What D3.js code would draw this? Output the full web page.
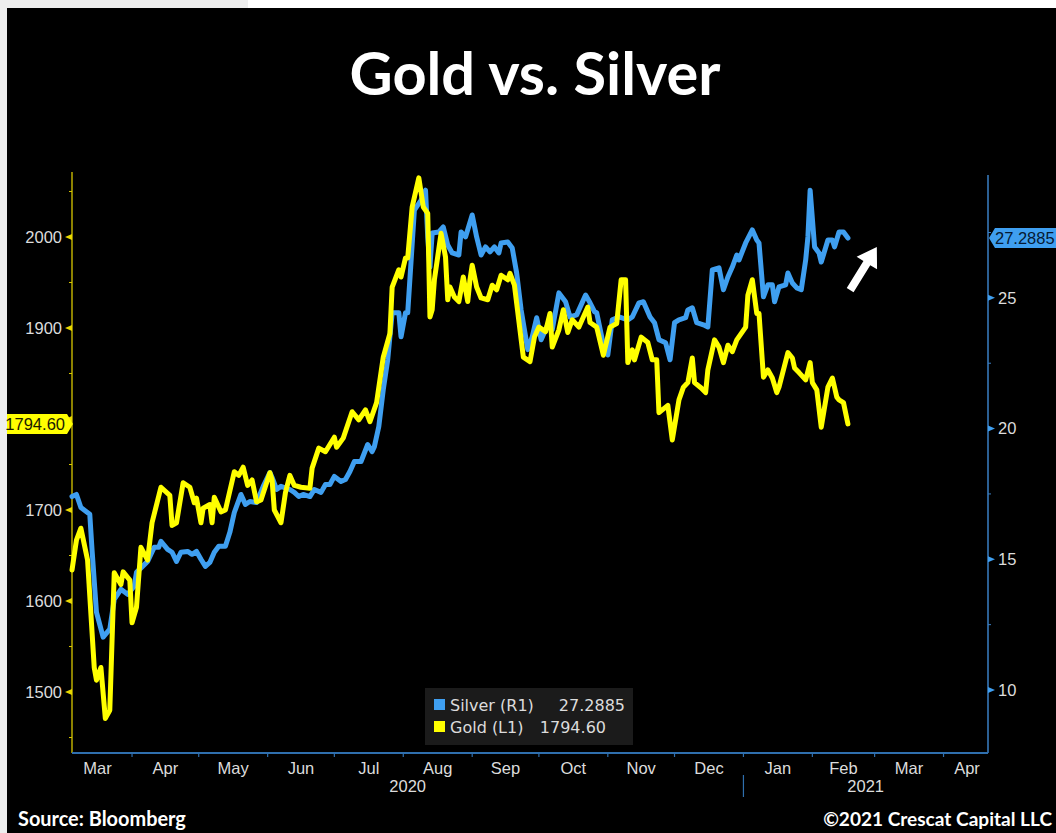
<!DOCTYPE html>
<html>
<head>
<meta charset="utf-8">
<script src="https://cdn.jsdelivr.net/npm/d3@7"></script>
<style>
  html, body { margin: 0; padding: 0; background: #fff; }
  svg { display: block; }
</style>
</head>
<body>
<svg id="chart" width="1056" height="833"></svg>
<script>
// ---- Data: daily closes, sampled; days counted from START ----
const START = new Date(2020, 2, 5);
const END = new Date(2021, 3, 21);

const goldDay = [0,2,4,7,10,11,13,15,17,19,22,23,26,27,29,31,34,36,40,44,45,47,50,53,55,56,58,59,62,63,64,67,69,73,75,77,79,81,83,85,89,90,91,94,96,98,100,103,107,108,111,114,118,119,122,126,129,132,134,137,140,143,144,147,148,150,151,153,156,158,160,161,162,163,166,168,169,170,172,174,176,178,179,180,182,184,187,189,191,193,196,197,199,203,206,208,210,213,215,216,219,221,223,225,228,232,233,236,239,242,245,247,249,250,252,253,256,259,261,263,264,268,270,273,275,277,279,280,283,285,286,289,291,293,295,297,299,303,304,306,308,309,311,313,315,317,318,322,324,325,327,330,332,333,335,337,340,342,344,345,347,349];
const goldVal = [1634,1667,1680,1645,1527,1513,1527,1471,1480,1631,1618,1632,1623,1576,1593,1659,1645,1686,1725,1716,1683,1686,1730,1725,1708,1713,1686,1702,1706,1686,1714,1698,1700,1742,1738,1747,1727,1733,1709,1711,1741,1733,1700,1686,1719,1738,1727,1725,1724,1746,1768,1764,1780,1769,1779,1808,1799,1810,1797,1818,1868,1894,1945,1964,1956,1977,1977,2033,2065,2033,2026,1912,1920,1953,2004,1978,1931,1945,1934,1929,1956,1929,1953,1969,1945,1933,1931,1947,1942,1958,1953,1960,1947,1868,1863,1890,1901,1896,1916,1879,1898,1920,1895,1909,1901,1923,1906,1901,1870,1901,1905,1953,1953,1862,1876,1865,1890,1884,1865,1865,1807,1815,1777,1821,1835,1840,1867,1840,1834,1829,1854,1887,1879,1862,1881,1874,1887,1901,1936,1953,1916,1916,1846,1854,1845,1829,1835,1873,1867,1856,1851,1843,1862,1840,1832,1791,1835,1845,1824,1821,1818,1794.6];

const silverDay = [0,2,4,8,9,11,14,17,19,22,25,28,29,34,37,39,40,43,45,47,49,52,54,56,58,60,62,64,66,69,71,73,76,78,80,83,86,89,90,92,94,98,100,102,104,107,109,112,114,116,118,121,123,125,127,130,133,135,136,138,140,142,144,147,148,150,151,154,157,159,160,161,162,165,167,169,171,174,175,177,180,182,184,186,188,190,192,193,196,198,200,202,205,207,209,211,214,216,219,222,224,227,231,233,235,236,239,241,243,246,250,252,255,257,260,262,264,267,269,271,273,276,277,279,281,284,286,288,291,293,295,297,299,300,303,306,308,309,311,313,315,316,318,321,322,324,326,328,330,331,332,334,336,337,340,342,343,345,347,349];
const silverVal = [17.40,17.48,16.98,16.72,15.38,12.98,12.02,12.33,13.47,13.85,13.66,13.97,14.50,14.92,15.46,15.46,15.69,15.38,15.27,14.92,15.27,15.30,15.19,15.30,15.00,14.73,14.88,15.27,15.50,15.50,16.03,16.79,17.48,17.10,17.21,17.17,17.79,18.32,18.13,17.67,17.79,17.67,17.56,17.40,17.48,17.40,17.67,17.56,17.86,17.86,18.17,17.98,18.05,18.36,18.74,18.74,19.39,19.12,19.31,20.08,21.49,22.63,24.43,24.43,23.51,24.43,24.43,28.36,28.74,29.12,27.33,26.18,27.48,27.52,27.71,27.02,26.72,26.64,27.52,27.33,28.17,27.33,26.64,26.95,26.76,26.95,26.72,27.10,27.14,26.91,25.95,24.54,23.02,23.51,24.24,23.40,23.97,23.78,25.19,24.85,24.27,24.35,25.11,24.81,24.47,24.43,23.21,22.82,24.16,24.27,24.16,24.27,24.81,24.85,24.27,24.05,23.40,23.28,22.63,24.05,24.16,24.24,24.54,24.62,24.05,23.97,23.89,26.07,26.15,25.31,25.80,26.18,26.64,26.45,27.10,27.60,27.21,27.10,25.04,25.50,25.50,24.85,25.42,25.50,25.95,25.57,25.38,25.31,26.45,27.33,29.12,26.95,26.72,26.37,27.21,27.21,26.95,27.52,27.52,27.2885];

const goldTicks = [1500, 1600, 1700, 1800, 1900, 2000];
const goldMinor = [1450, 1550, 1650, 1750, 1850, 1950, 2050];
const silverTicks = [10, 15, 20, 25];
const silverMinor = [12.5, 17.5, 22.5, 27.5];

const legendItems = [
  { name: "Silver (R1)", value: "27.2885", color: "#3f9ff0" },
  { name: "Gold (L1)", value: "1794.60", color: "#ffff00" }
];
const goldLast = 1794.60;
const silverLast = 27.2885;
// trend arrow (day, silver value) tail -> head
const arrowFrom = [350, 25.3];
const arrowTo = [362, 26.95];

// ---- Layout ----
const W = 1056, H = 833;
const plot = { left: 72, right: 988, top: 172, bottom: 753 };
const GOLD = "#ffff00", SILVER = "#3f9ff0";
const TXT = "#dcdcdc";
const FONT = "'Liberation Sans', Arial, sans-serif";
const FS = 16.5;
const LFONT = "'DejaVu Sans', Verdana, sans-serif";

const svg = d3.select("#chart");

// page frame
svg.append("rect").attr("width", W).attr("height", H).attr("fill", "#ffffff");
svg.append("rect").attr("x", 0).attr("y", 0).attr("width", 248).attr("height", 8).attr("fill", "#eeeeee");
svg.append("rect").attr("x", 0).attr("y", 0).attr("width", 7).attr("height", H).attr("fill", "#eeeeee");
svg.append("rect").attr("x", 7).attr("y", 8).attr("width", W - 7).attr("height", H - 8).attr("fill", "#000");

const dayDate = n => d3.timeDay.offset(START, n);

const x = d3.scaleTime().domain([START, END]).range([plot.left, plot.right]);
const yG = d3.scaleLinear().domain([1433, 2071.4]).range([plot.bottom, plot.top]);
const yS = d3.scaleLinear().domain([7.59, 29.70]).range([plot.bottom, 175]);

function fitText(sel, width) {
  const fs = parseFloat(sel.attr("font-size"));
  const w = sel.node().getComputedTextLength();
  sel.attr("font-size", fs * width / w);
}

// title
const title = svg.append("text")
  .attr("x", 535).attr("y", 95).attr("text-anchor", "middle")
  .attr("font-family", "Lato, 'Open Sans', sans-serif").attr("font-weight", 700)
  .attr("font-size", 54).attr("fill", "#fff").text("Gold vs. Silver");
fitText(title, 371);

// ---- Left axis (gold) ----
const gL = svg.append("g");
gL.append("line").attr("x1", plot.left).attr("x2", plot.left)
  .attr("y1", plot.top).attr("y2", plot.bottom)
  .attr("stroke", "#d8c800").attr("stroke-width", 1.3);
goldMinor.forEach(v => {
  gL.append("line").attr("x1", plot.left - 3).attr("x2", plot.left)
    .attr("y1", yG(v)).attr("y2", yG(v)).attr("stroke", "#d8c800").attr("stroke-width", 1);
});
goldTicks.forEach(v => {
  const yy = yG(v);
  gL.append("path").attr("d", `M${plot.left},${yy - 3}L${plot.left - 7},${yy}L${plot.left},${yy + 3}Z`)
    .attr("fill", "#e8d800");
  if (v !== 1800) {
    gL.append("text").attr("x", plot.left - 10).attr("y", yy).attr("dy", "0.35em")
      .attr("text-anchor", "end").attr("font-family", FONT).attr("font-size", FS)
      .attr("fill", TXT).text(v);
  }
});

// ---- Right axis (silver) ----
const gR = svg.append("g");
gR.append("line").attr("x1", plot.right).attr("x2", plot.right)
  .attr("y1", 175).attr("y2", plot.bottom)
  .attr("stroke", "#3a7fc4").attr("stroke-width", 1.5);
silverMinor.forEach(v => {
  gR.append("line").attr("x1", plot.right).attr("x2", plot.right + 3)
    .attr("y1", yS(v)).attr("y2", yS(v)).attr("stroke", "#3a7fc4").attr("stroke-width", 1);
});
silverTicks.forEach(v => {
  const yy = yS(v);
  gR.append("path").attr("d", `M${plot.right},${yy - 3}L${plot.right + 7},${yy}L${plot.right},${yy + 3}Z`)
    .attr("fill", "#3f9ff0");
  gR.append("text").attr("x", plot.right + 10).attr("y", yy).attr("dy", "0.35em")
    .attr("font-family", FONT).attr("font-size", FS).attr("fill", TXT).text(v);
});

// ---- Bottom axis (time) ----
const gB = svg.append("g");
gB.append("line").attr("x1", plot.left).attr("x2", plot.right)
  .attr("y1", plot.bottom).attr("y2", plot.bottom)
  .attr("stroke", "#2f6fae").attr("stroke-width", 2);
const monthStarts = d3.timeMonth.range(new Date(2020, 2, 1), new Date(2021, 4, 1));
monthStarts.forEach(m => {
  if (m > START && m < END) {
    gB.append("line").attr("x1", x(m)).attr("x2", x(m))
      .attr("y1", plot.bottom).attr("y2", plot.bottom + 4)
      .attr("stroke", "#2f6fae").attr("stroke-width", 1.2);
  }
  const mid = new Date((+m + +d3.timeMonth.offset(m, 1)) / 2);
  const cx = Math.max(plot.left + 24, Math.min(plot.right - 21, x(mid)));
  gB.append("text").attr("x", cx).attr("y", plot.bottom + 21).attr("text-anchor", "middle")
    .attr("font-family", FONT).attr("font-size", FS).attr("fill", TXT)
    .text(d3.timeFormat("%b")(m));
});
const yearSplit = new Date(2021, 0, 1);
gB.append("line").attr("x1", x(yearSplit)).attr("x2", x(yearSplit))
  .attr("y1", plot.bottom + 22).attr("y2", plot.bottom + 44)
  .attr("stroke", "#2f6fae").attr("stroke-width", 1.2);
[[START, yearSplit, "2020"], [yearSplit, END, "2021"]].forEach(([a, b, t]) => {
  gB.append("text").attr("x", (x(a) + x(b)) / 2).attr("y", plot.bottom + 39)
    .attr("text-anchor", "middle").attr("font-family", FONT).attr("font-size", FS)
    .attr("fill", TXT).text(t);
});

// ---- Series ----
const silverData = silverDay.map((d, i) => ({ date: dayDate(d), v: silverVal[i] }));
const goldData = goldDay.map((d, i) => ({ date: dayDate(d), v: goldVal[i] }));

svg.append("path").datum(silverData)
  .attr("d", d3.line().x(d => x(d.date)).y(d => yS(d.v)))
  .attr("fill", "none").attr("stroke", SILVER).attr("stroke-width", 5)
  .attr("stroke-linejoin", "round").attr("stroke-linecap", "round");
svg.append("path").datum(goldData)
  .attr("d", d3.line().x(d => x(d.date)).y(d => yG(d.v)))
  .attr("fill", "none").attr("stroke", GOLD).attr("stroke-width", 5)
  .attr("stroke-linejoin", "round").attr("stroke-linecap", "round");

// ---- Last-value tags ----
const gy = yG(goldLast);
svg.append("path")
  .attr("d", `M7,${gy - 10}H67L73,${gy}L67,${gy + 10}H7Z`)
  .attr("fill", GOLD);
svg.append("text").attr("x", 65).attr("y", gy).attr("dy", "0.36em").attr("text-anchor", "end")
  .attr("font-family", FONT).attr("font-size", FS).attr("fill", "#1a1a00").text(goldLast.toFixed(2));

const sy = yS(silverLast);
svg.append("path")
  .attr("d", `M${plot.right + 1},${sy}L${plot.right + 7},${sy - 10}H${W}V${sy + 10}H${plot.right + 7}Z`)
  .attr("fill", SILVER);
svg.append("text").attr("x", plot.right + 7).attr("y", sy).attr("dy", "0.36em")
  .attr("font-family", FONT).attr("font-size", FS).attr("fill", "#061a33").text(silverLast.toString());

// ---- Legend ----
const lg = svg.append("g");
lg.append("rect").attr("x", 425).attr("y", 688).attr("width", 208).attr("height", 57)
  .attr("fill", "#1b1b1b");
legendItems.forEach((it, i) => {
  const yy = 705 + i * 22;
  lg.append("rect").attr("x", 434).attr("y", yy - 6).attr("width", 11).attr("height", 11).attr("fill", it.color);
  lg.append("text").attr("x", 450).attr("y", yy).attr("dy", "0.36em")
    .attr("font-family", LFONT).attr("font-size", 16).attr("fill", TXT).text(it.name);
  lg.append("text").attr("x", i === 0 ? 625 : 606).attr("y", yy).attr("dy", "0.36em").attr("text-anchor", "end")
    .attr("font-family", LFONT).attr("font-size", 16).attr("fill", TXT).text(it.value);
});

// ---- Trend arrow ----
(function () {
  const x0 = x(dayDate(arrowFrom[0])), y0 = yS(arrowFrom[1]);
  const x1 = x(dayDate(arrowTo[0])), y1 = yS(arrowTo[1]);
  const len = Math.hypot(x1 - x0, y1 - y0);
  const ux = (x1 - x0) / len, uy = (y1 - y0) / len;
  const nx = -uy, ny = ux;
  const headLen = 19, headW = 12, shaftW = 4;
  const bx = x1 - ux * headLen, by = y1 - uy * headLen;
  const pts = [
    [x0 + nx * shaftW, y0 + ny * shaftW],
    [bx + nx * shaftW, by + ny * shaftW],
    [bx + nx * headW, by + ny * headW],
    [x1, y1],
    [bx - nx * headW, by - ny * headW],
    [bx - nx * shaftW, by - ny * shaftW],
    [x0 - nx * shaftW, y0 - ny * shaftW]
  ];
  svg.append("polygon").attr("points", pts.map(p => p.join(",")).join(" ")).attr("fill", "#fff");
})();

// ---- Footer ----
const src = svg.append("text").attr("x", 18).attr("y", 826)
  .attr("font-family", "Lato, 'Open Sans', sans-serif").attr("font-weight", 700)
  .attr("font-size", 17).attr("fill", "#fff").text("Source: Bloomberg");
fitText(src, 168);
const cr = svg.append("text").attr("x", 1052).attr("y", 826).attr("text-anchor", "end")
  .attr("font-family", "Lato, 'Open Sans', sans-serif").attr("font-weight", 700)
  .attr("font-size", 17).attr("fill", "#fff").text("©2021 Crescat Capital LLC");
fitText(cr, 229);
</script>
</body>
</html>
